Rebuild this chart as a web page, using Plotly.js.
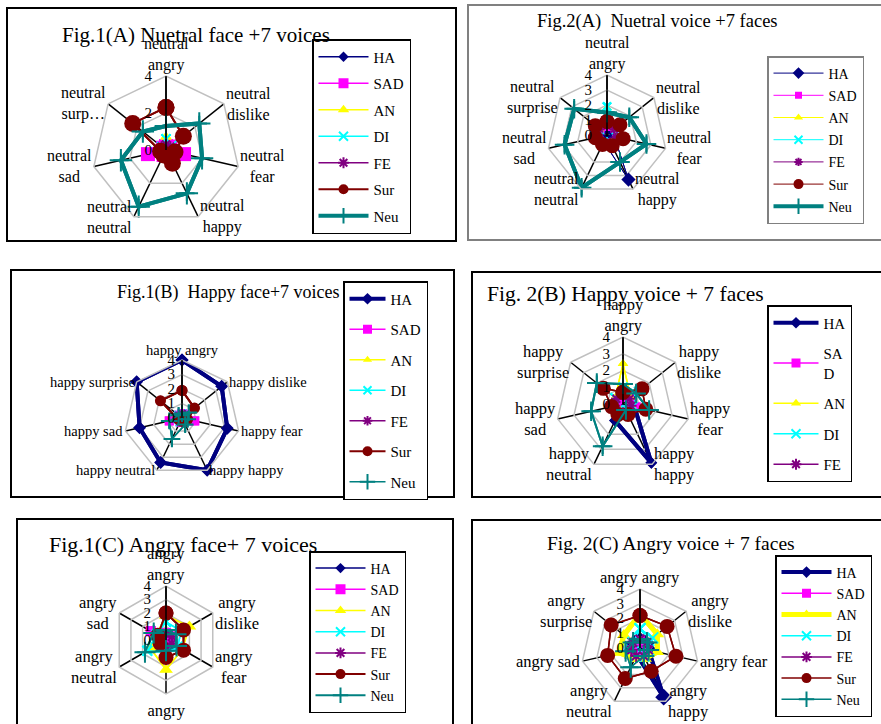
<!DOCTYPE html>
<html><head><meta charset="utf-8">
<script src="https://cdn.plot.ly/plotly-3.0.1.min.js"></script>
<style>html,body{margin:0;padding:0;background:#fff}#chart{width:881px;height:724px}</style>
</head><body><div id="chart"></div>
<script>
// ---------- DATA ----------
const seriesNames = ["HA","SAD","AN","DI","FE","Sur","Neu"];

const cats7 = ["angry","dislike","fear","happy","neutral","sad","surprise"];
const cats6 = ["angry","dislike","fear","happy","neutral","sad"];

const labels1A = ["neutral<br>angry","neutral<br>dislike","neutral<br>fear","neutral<br>happy","neutral<br>neutral","neutral<br>sad","neutral<br>surp…"];
const labels2A = ["neutral<br>angry","neutral<br>dislike","neutral<br>fear","neutral<br>happy","neutral<br>neutral","neutral<br>sad","neutral<br>surprise"];
const labels1B = ["happy angry","happy dislike","happy fear","happy happy","happy neutral","happy sad","happy surprise"];
const labels2B = ["happy<br>angry","happy<br>dislike","happy<br>fear","happy<br>happy","happy<br>neutral","happy<br>sad","happy<br>surprise"];
const labels1C = ["angry<br>angry","angry<br>dislike","angry<br>fear","angry<br>happy","angry<br>neutral","angry<br>sad"];
const labels2C = ["angry angry","angry<br>dislike","angry fear","angry<br>happy","angry<br>neutral","angry sad","angry<br>surprise"];

const radialTicks4 = [0,2,4];
const radialTicks1 = [0,1,2,3,4];

// Fig.1(A) Neutral face + 7 voices
const f1A_HA  = [0.3,0.3,0.4,0.9,0.3,0.3,0.3];
const f1A_SAD = [0.2,0.3,1.0,0.3,0.3,1.0,0.2];
const f1A_AN  = [0.7,0.3,0.2,0.2,0.2,0.2,0.2];
const f1A_DI  = [0.6,0.4,0.2,0.2,0.2,0.2,0.3];
const f1A_FE  = [0.3,0.3,0.3,0.3,0.2,0.2,0.3];
const f1A_Sur = [2.3,1.2,0.5,0.8,0.3,0.3,2.3];
const f1A_Neu = [1.3,2.3,2.0,2.6,3.4,2.5,1.6];

// Fig.2(A) Neutral voice + 7 faces
const f2A_HA  = [0.5,0.5,0.5,3.3,0.5,0.5,0.5];
const f2A_SAD = [0.5,0.6,0.6,0.5,0.5,0.6,0.5];
const f2A_AN  = [1.8,0.7,0.6,0.5,0.5,0.5,0.6];
const f2A_DI  = [1.9,0.8,0.6,0.5,0.5,0.5,0.7];
const f2A_FE  = [0.6,0.6,0.6,0.5,0.5,0.5,0.6];
const f2A_Sur = [0.9,1.1,1.1,0.8,0.7,0.8,1.0];
const f2A_Neu = [1.5,1.9,2.7,2.0,3.9,2.9,2.8];

// Fig.1(B) Happy face + 7 voices
const f1B_HA  = [4.0,3.5,3.2,4.0,3.4,3.0,4.0];
const f1B_SAD = [0.3,0.4,0.9,0.3,0.3,0.9,0.3];
const f1B_AN  = [0.3,0.3,0.3,0.3,0.3,0.3,0.3];
const f1B_DI  = [0.3,0.3,0.3,0.3,0.3,0.3,0.3];
const f1B_FE  = [0.3,0.3,0.3,0.3,0.3,0.3,0.3];
const f1B_Sur = [1.9,1.1,0.4,0.3,0.2,0.3,1.9];
const f1B_Neu = [0.3,0.6,0.4,0.5,1.6,0.9,0.3];

// Fig.2(B) Happy voice + 7 faces
const f2B_HA  = [0.5,0.6,0.7,3.9,1.1,0.4,0.4];
const f2B_SAD = [0.4,0.5,0.8,0.4,0.4,0.4,0.4];
const f2B_AN  = [2.4,0.6,0.5,0.4,0.4,0.5,0.6];
const f2B_DI  = [1.0,1.2,0.6,0.4,0.4,0.5,0.6];
const f2B_FE  = [0.5,0.5,0.5,0.5,0.5,0.5,0.5];
const f2B_Sur = [0.7,1.45,1.4,0.7,0.7,0.7,1.5];
const f2B_Neu = [1.2,1.0,1.6,0.4,2.8,1.95,2.0];

// Fig.1(C) Angry face + 7 voices (6 axes)
const f1C_HA  = [0.4,0.4,0.4,0.4,0.4,0.4];
const f1C_SAD = [0.5,0.5,0.5,0.5,0.6,1.3];
const f1C_AN  = [1.8,2.0,1.4,2.2,1.3,0.8];
const f1C_DI  = [1.35,1.3,1.0,0.9,1.6,0.8];
const f1C_FE  = [0.5,0.5,0.5,0.5,0.5,0.5];
const f1C_Sur = [2.0,1.5,1.5,1.3,0.5,0.7];
const f1C_Neu = [0.75,0.85,0.9,0.8,1.8,1.05];

// Fig.2(C) Angry voice + 7 faces
const f2C_HA  = [0.5,0.5,0.6,3.7,0.5,0.5,0.5];
const f2C_SAD = [0.5,0.5,0.5,0.5,0.5,0.5,0.5];
const f2C_AN  = [2.3,1.5,1.2,0.8,0.8,1.45,1.4];
const f2C_DI  = [1.3,1.1,0.6,0.6,0.6,0.6,0.6];
const f2C_FE  = [0.6,0.6,0.6,0.6,0.6,0.6,0.6];
const f2C_Sur = [2.2,2.35,2.5,1.75,2.3,2.25,2.5];
const f2C_Neu = [0.6,0.6,0.6,0.6,1.45,1.0,0.6];

const titles = {
  p1:"Fig.1(A) Nuetral face +7 voices",
  p2:"Fig.2(A)  Nuetral voice +7 faces",
  p3:"Fig.1(B)  Happy face+7 voices",
  p4:"Fig. 2(B) Happy voice + 7 faces",
  p5:"Fig.1(C) Angry face+ 7 voices",
  p6:"Fig. 2(C) Angry voice + 7 faces"
};

// ---------- STYLE ----------
const W = 881, H = 724;
const FONT = "Liberation Serif, Times New Roman, serif";
const colors  = ["#000080","#FF00FF","#FFFF00","#00FFFF","#800080","#800000","#008080"];
const symbols = ["diamond","square","triangle-up","x-thin-open","asterisk-open","circle","cross-thin-open"];
const legendMarker = [9,10,10,9,9,10,11];

const panels = [
  {id:"polar",  leg:"legend",  cats:cats7, labels:labels1A, data:[f1A_HA,f1A_SAD,f1A_AN,f1A_DI,f1A_FE,f1A_Sur,f1A_Neu],
   cx:166, cy:150, R:74, ticks:radialTicks4, tl:8, lw:[1.5,1.5,1.5,1.5,1.5,2,4], ms:[8,14,10,9,9,17,16], tf:16, show:[1,1,1,1,1,1,1]},
  {id:"polar2", leg:"legend2", cats:cats7, labels:labels2A, data:[f2A_HA,f2A_SAD,f2A_AN,f2A_DI,f2A_FE,f2A_Sur,f2A_Neu],
   cx:607, cy:135, R:60, ticks:radialTicks1, tl:9, lw:[1,1,1,1,1,4,4], ms:[11,7,8,8,7,15,14], tf:16, show:[1,1,1,1,1,1,1]},
  {id:"polar3", leg:"legend3", cats:cats7, labels:labels1B, data:[f1B_HA,f1B_SAD,f1B_AN,f1B_DI,f1B_FE,f1B_Sur,f1B_Neu],
   cx:182, cy:418, R:58, ticks:radialTicks1, tl:1, lw:[4,1.5,1.5,1.5,1.5,2,1.5], ms:[10,9,8,8,8,11,12], tf:14.5, show:[1,1,1,1,1,1,1]},
  {id:"polar4", leg:"legend4", cats:cats7, labels:labels2B, data:[f2B_HA,f2B_SAD,f2B_AN,f2B_DI,f2B_FE,f2B_Sur,f2B_Neu],
   cx:623, cy:404, R:67, ticks:radialTicks1, tl:7, lw:[4,1.5,1.5,1.5,1.5,1.5,2], ms:[9,9,9,9,9,15,14], tf:16.5, show:[1,1,1,1,1,0,0]},
  {id:"polar5", leg:"legend5", cats:cats6, labels:labels1C, data:[f1C_HA,f1C_SAD,f1C_AN,f1C_DI,f1C_FE,f1C_Sur,f1C_Neu],
   cx:166, cy:640, R:54, ticks:radialTicks1, tl:9, lw:[1.5,1.5,1.5,1.5,1.5,2,2], ms:[8,10,12,10,9,15,15], tf:16.5, show:[1,1,1,1,1,1,1]},
  {id:"polar6", leg:"legend6", cats:cats7, labels:labels2C, data:[f2C_HA,f2C_SAD,f2C_AN,f2C_DI,f2C_FE,f2C_Sur,f2C_Neu],
   cx:640, cy:648, R:59, ticks:radialTicks1, tl:10, lw:[4,1.5,5,1.5,1.5,1.5,1.5], ms:[13,9,12,11,10,15,15], tf:16.5, show:[1,1,1,1,1,1,1]}
];

const legendNames = {legend4:["HA","SA<br>D","AN","DI","FE","Sur","Neu"]};
const legendLineW = {polar2:[1,1,1,1,1,1,4]};

const traces = [];
const layout = {
  width:W, height:H, margin:{l:0,r:0,t:0,b:0},
  paper_bgcolor:"#fff", showlegend:true,
  font:{family:FONT, size:14, color:"#000"},
  shapes:[], annotations:[]
};
const px = x => x/W, py = y => 1 - y/H;

panels.forEach((p, pi) => {
  const th = p.cats.concat([p.cats[0]]);
  const names = legendNames[p.leg] || seriesNames;
  const llw = legendLineW[p.id] || p.lw;
  // legend entries (drawn underneath, same data, small legend-sized markers)
  p.data.forEach((vals, si) => {
    traces.push({
      type:"scatterpolar", subplot:p.id, legend:p.leg,
      name:names[si], legendgroup:p.id+"_"+si, showlegend:!!p.show[si],
      theta:th, r:vals.concat([vals[0]]), mode:"lines+markers",
      line:{color:colors[si], width:llw[si]},
      marker:{color:colors[si], symbol:symbols[si], size:Math.min(legendMarker[si], p.ms[si]), line:{color:colors[si], width:(si===3||si===4||si===6)?2:0}},
      cliponaxis:false, hoverinfo:"skip"
    });
  });
  // drawn series
  p.data.forEach((vals, si) => {
    traces.push({
      type:"scatterpolar", subplot:p.id, legend:p.leg,
      name:names[si], showlegend:false,
      theta:th, r:vals.concat([vals[0]]), mode:"lines+markers",
      line:{color:colors[si], width:p.lw[si]},
      marker:{color:colors[si], symbol:symbols[si], size:p.ms[si], line:{color:colors[si], width:(si===3||si===4||si===6)?2:0}},
      cliponaxis:false, hoverinfo:"skip"
    });
  });
  layout[p.id] = {
    domain:{x:[(p.cx-p.R)/W,(p.cx+p.R)/W], y:[1-(p.cy+p.R)/H, 1-(p.cy-p.R)/H]},
    bgcolor:"rgba(0,0,0,0)",
    gridshape:"linear",
    angularaxis:{type:"category", categoryarray:p.cats, categoryorder:"array",
      direction:"clockwise", rotation:90, showticklabels:false,
      showgrid:true, gridcolor:"#000", gridwidth:1.5,
      showline:true, linecolor:"#C0C0C0", linewidth:1.5, ticks:""},
    radialaxis:{range:[0,4], tickmode:"array", tickvals:p.ticks, ticktext:p.ticks.map(String),
      angle:90, tickangle:90, side:"counterclockwise",
      showgrid:true, gridcolor:"#C0C0C0", gridwidth:1.5,
      showline:true, linecolor:"#000", linewidth:1.5,
      ticks:"outside", ticklen:p.tl, tickcolor:"rgba(0,0,0,0)",
      tickfont:{family:FONT, size:15, color:"#000"}}
  };
  // category labels placed at the polygon vertices (Excel-style)
  const n = p.cats.length;
  p.labels.forEach((lab, k) => {
    const a = 2*Math.PI*k/n;
    const dx = Math.sin(a), dy = -Math.cos(a);
    const vx = p.cx + p.R*dx, vy = p.cy + p.R*dy;
    let xa = "center", ya = "middle", ox = 0, oy = 0;
    if (k === 0) { ya = "bottom"; oy = -1; }
    else if (Math.abs(dx) < 0.05) { ya = "top"; oy = 6; }
    else { xa = dx > 0 ? "left" : "right"; ox = dx > 0 ? 1 : -1; }
    layout.annotations.push({xref:"paper", yref:"paper", x:px(vx+ox), y:py(vy+oy),
      xanchor:xa, yanchor:ya, align:"center", text:lab, showarrow:false,
      borderpad:0, font:{family:FONT, size:p.tf, color:"#000"}});
  });
});

// panel frames
const frames = [
  [7,8,456,241,"#000"],[468,5,890,240,"#808080"],
  [11,270,454,497,"#000"],[472,272,890,497,"#000"],
  [17,519,453,730,"#000"],[472,520,890,730,"#000"]
];
frames.forEach(f => layout.shapes.push({type:"rect", xref:"paper", yref:"paper",
  x0:px(f[0]), y0:py(f[1]), x1:px(f[2]), y1:py(f[3]), line:{color:f[4], width:2}, layer:"below"}));

// titles
const tpos = [["p1",60,35,21],["p2",535,22,18.5],["p3",115,292,18],["p4",485,294,21.5],["p5",47,544,22],["p6",545,544,19.5]];
tpos.forEach(t => layout.annotations.push({xref:"paper", yref:"paper", x:px(t[1]), y:py(t[2]),
  xanchor:"left", yanchor:"middle", text:titles[t[0]], showarrow:false, font:{family:FONT, size:t[3], color:"#000"}}));

// legends
const legs = [
  ["legend",312,39,15,4,"#000",50],["legend2",767,56,14,1,"#808080",50],["legend3",343,281,15,8,"#000",36],
  ["legend4",767,305,15,8,"#000",45],["legend5",309,551,14,0,"#000",50],["legend6",775,555,14,0,"#000",50]
];
legs.forEach(l => {
  layout[l[0]] = {x:px(l[1]), y:py(l[2]), xanchor:"left", yanchor:"top",
    bgcolor:"#fff", bordercolor:l[5], borderwidth:1.5, itemwidth:l[6],
    tracegroupgap:l[4], font:{family:FONT, size:l[3], color:"#000"}, itemclick:false};
});

Plotly.newPlot("chart", traces, layout, {staticPlot:true});
</script></body></html>
